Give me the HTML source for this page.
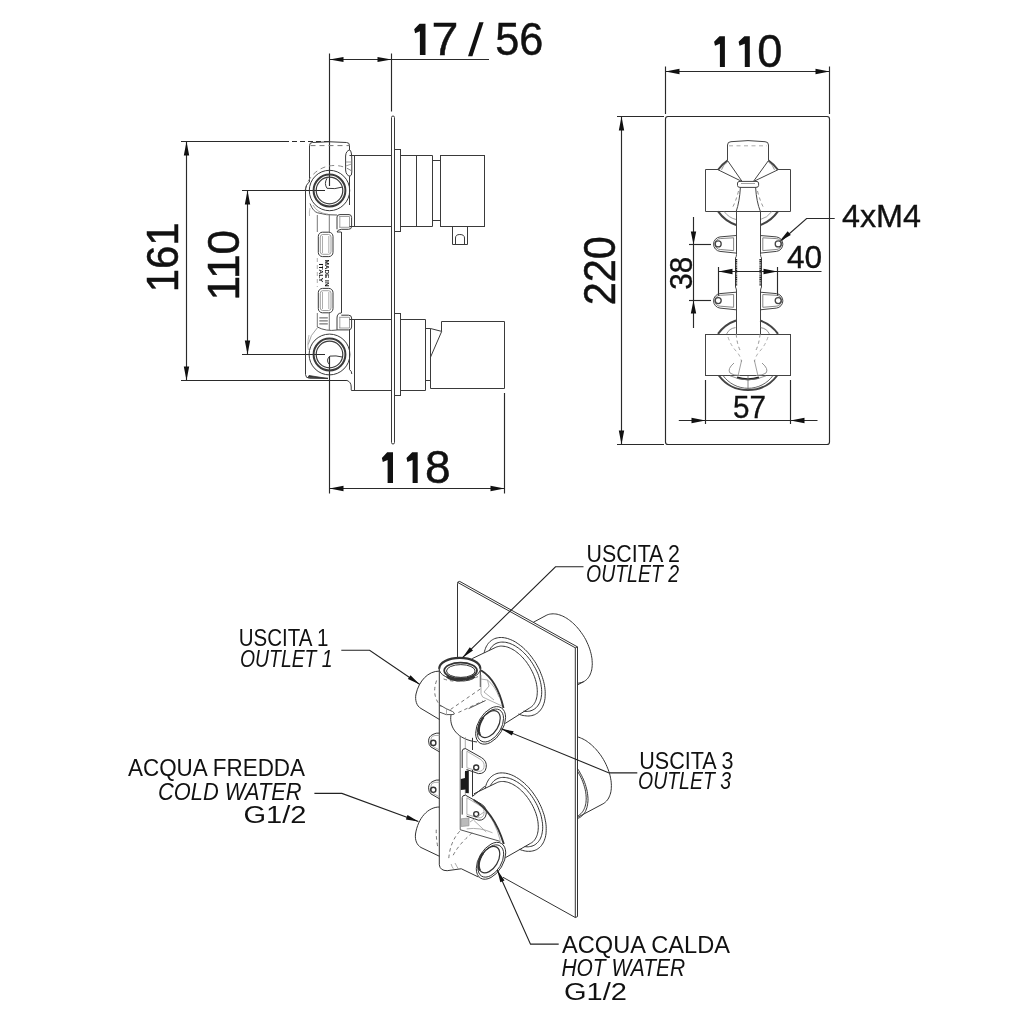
<!DOCTYPE html>
<html><head><meta charset="utf-8">
<style>
html,body{margin:0;padding:0;background:#fff;width:1024px;height:1024px;overflow:hidden}
svg{display:block;will-change:transform}
text{font-family:"Liberation Sans",sans-serif;fill:#111}
</style></head><body>
<svg width="1024" height="1024" viewBox="0 0 1024 1024">
<defs>
<marker id="a" viewBox="0 0 14 6" refX="14" refY="3" markerWidth="14" markerHeight="6" markerUnits="userSpaceOnUse" orient="auto-start-reverse"><path d="M0,0L14,3L0,6z" fill="#111"/></marker>
</defs>
<rect width="1024" height="1024" fill="#fff"/>

<!-- ================= SIDE VIEW ================= -->
<g fill="none" stroke="#2a2a2a" stroke-width="1.15">
  <line x1="329.5" y1="53.5" x2="329.5" y2="186"/>
  <line x1="391.5" y1="53.5" x2="391.5" y2="111.5"/>
  <line x1="329.5" y1="59.5" x2="489" y2="59.5"/>
  <line x1="181" y1="141.5" x2="289" y2="141.5"/>
  <line x1="292" y1="141.5" x2="330" y2="141.5" stroke-dasharray="5,3"/>
  <line x1="181" y1="380.5" x2="346.9" y2="380.5"/>
  <line x1="186.5" y1="141.5" x2="186.5" y2="380.5"/>
  <line x1="242" y1="190.5" x2="325" y2="190.5"/>
  <line x1="242" y1="354.5" x2="325" y2="354.5"/>
  <line x1="247.5" y1="190.5" x2="247.5" y2="354.5"/>
  <line x1="329.5" y1="356" x2="329.5" y2="493.5"/>
  <line x1="504.5" y1="393" x2="504.5" y2="493.5"/>
  <line x1="329.5" y1="488.5" x2="504.5" y2="488.5"/>
</g>
<g fill="#111">
  <path d="M329.5,59.5 l14,-2.6 v5.2z M391.5,59.5 l-14,-2.6 v5.2z"/>
  <path d="M186.5,141.5 l-2.7,14 h5.4z M186.5,380.5 l-2.7,-14 h5.4z"/>
  <path d="M247.5,190.5 l-2.7,14 h5.4z M247.5,354.5 l-2.7,-14 h5.4z"/>
  <path d="M329.5,488.5 l14,-2.7 v5.4z M504.5,488.5 l-14,-2.7 v5.4z"/>
</g>
<g font-size="45" stroke="#111" stroke-width="0.5">
  <text transform="translate(178.4,292.3) rotate(-90)" textLength="70" lengthAdjust="spacingAndGlyphs">161</text>
  <text transform="translate(239.4,300.4) rotate(-90)" textLength="70.5" lengthAdjust="spacingAndGlyphs">110</text>
</g>

<g font-size="45.5" stroke="#111" stroke-width="0.45" fill="#111">
<path d="M419.5,23.7 H425.5 V55.1 H419.9 V31.3 L415.1,33.3 L414.2,29.3 Z" stroke="none"/>
<text x="431.52" y="55.1" textLength="26.92" lengthAdjust="spacingAndGlyphs">7</text>
<path d="M468,56.2 H472.4 L483.6,22.2 H479.2 Z" stroke="none"/>
<text x="495.26" y="54.86" textLength="48.24" lengthAdjust="spacingAndGlyphs">56</text>
<path d="M387.2,452.3 H393 V483.1 H387.6 V459.9 L382.8,461.9 L381.9,457.9 Z" stroke="none"/>
<path d="M412.2,452.3 H417.7 V483.1 H412.6 V459.9 L407.4,461.9 L406.5,457.9 Z" stroke="none"/>
<text x="425" y="482.87" textLength="25.6" lengthAdjust="spacingAndGlyphs">8</text>
<path d="M719.5,36.2 H724.9 V66.9 H719.9 V43.8 L715,45.8 L714.1,41.8 Z" stroke="none"/>
<path d="M744.4,36.2 H749.8 V66.9 H744.8 V43.8 L739.5,45.8 L738.6,41.8 Z" stroke="none"/>
<text x="757.13" y="66.97" textLength="25.13" lengthAdjust="spacingAndGlyphs">0</text>
</g>

<!-- body -->
<g fill="none" stroke="#3a3a3a" stroke-width="1">
  <path d="M309.5,182 V145.5 Q309.5,142.5 312.5,142.5 Q329.5,141 346.5,142.5 Q349.5,142.5 349.5,145.5 V150"/>
  <path d="M310.5,145.6 H349" stroke="#777" stroke-dasharray="5,4"/>
  <path d="M349.8,150 Q346,150.5 345.6,156 V170 Q346,175.5 350,176.2 Q351.8,176 351.8,172 V160 Q351.8,151 349.8,150z"/>
  <path d="M345.8,162 H351.5 M345.8,166 L351.5,164" stroke="#888" stroke-width="0.8"/>
  <path d="M349.5,176.2 V205"/>
  <path d="M305.2,190 A29.7,29.7 0 0 1 353,172" stroke="#888" stroke-dasharray="5,4"/>
  <path d="M309.5,182 Q305.5,184 305.5,192 V374.5 Q305.5,378.2 309.5,378.2 H328"/>
  <path d="M308,377.6 L328,378.6 L309,375.5z" fill="#333" stroke="#333" stroke-width="0.8"/>
  <circle cx="329.5" cy="190.5" r="20.2"/>
  <circle cx="329.5" cy="190.5" r="15.9" stroke-width="2"/>
  <circle cx="329.5" cy="190.5" r="13.3" stroke-width="1.2"/>
  <path d="M327,178.3 Q323.8,183.5 327,188.3 Q335,189.5 342.2,187.1"/>
  <circle cx="329.5" cy="354.5" r="20.4"/>
  <circle cx="329.5" cy="354.5" r="15.9" stroke-width="2"/>
  <circle cx="329.5" cy="354.5" r="13.3" stroke-width="1.2"/>
  <path d="M329.9,356.1 Q336,355.3 342.2,357 M329.9,356.1 Q325.5,360 329.2,364.3"/>
  <!-- junctions -->
  <path d="M310,203.5 Q313,211.5 317.6,212.8 Q326,215.5 337,215" stroke="#555"/>
  <path d="M313,205 Q317,213 328,214.2" stroke="#999" stroke-width="0.8"/>
  <path d="M317.3,215 V232 M317.3,313 V327" stroke="#777"/>
  <path d="M329.3,214 V232 M329.3,313 V330" stroke="#777"/>
  <path d="M317.3,327 Q326,331.6 337,330" stroke="#555"/>
  <path d="M317.6,327.5 Q310,335 308.2,344.5" stroke="#999" stroke-width="0.9"/>
  <path d="M310,208 Q309,212 309.5,216 M309,335 Q307,345 308.5,350" stroke="#aaa" stroke-width="0.8"/>
  <!-- lugs -->
  <path d="M337,229.3 V217 Q337,214.6 340,214.6 H349 Q351.6,214.6 351.6,217.5 V226.5 Q351.6,229.3 348.5,229.3 H341.3 Q337.5,229.8 337,232 H341.3"/>
  <path d="M339.2,216.5 H349.5 M339.2,227.3 H349.5 M339.8,216.5 V227.3 M349.5,216.5 V227.3" stroke="#888" stroke-width="0.8"/>
  <path d="M341.5,232 V313"/>
  <path d="M341.3,313 Q337,313.2 337,318 V329.9 H348.5 Q351.6,329.9 351.6,327 V318 Q351.6,315.2 348.5,315.2 H341.3"/>
  <path d="M339.2,317.3 H349.5 M339.2,328 H349.5 M339.8,317.3 V328 M349.5,317.3 V328" stroke="#888" stroke-width="0.8"/>
  <path d="M349.5,330 V369.6 Q351.8,371 351.8,374" />
  <path d="M346.9,380.4 Q351.2,382 351.2,387 V390.1"/>
  <!-- capsules -->
  <rect x="318.3" y="232.2" width="14.7" height="24.4" rx="4.2"/>
  <rect x="320.3" y="234.5" width="10.7" height="19.8" rx="2.5" stroke="#888" stroke-width="0.8"/>
  <path d="M322.5,236 V253 M328.8,236 V253" stroke="#999" stroke-width="0.8"/>
  <rect x="318.3" y="288.4" width="14.7" height="24.4" rx="4.2"/>
  <rect x="320.3" y="290.7" width="10.7" height="19.8" rx="2.5" stroke="#888" stroke-width="0.8"/>
  <path d="M322.5,292 V309 M328.8,292 V309" stroke="#999" stroke-width="0.8"/>
  <path d="M319.3,317.8 H327.8 M319.3,323.8 H327.8 M319.3,320.8 H327.8" stroke="#777" stroke-width="1.3"/>
  <path d="M317.3,258 V287" stroke="#999" stroke-dasharray="4,3" stroke-width="0.8"/>
</g>
<g font-size="6.2" font-weight="bold" fill="#222">
  <text transform="translate(324.5,259.5) rotate(90)" textLength="27" lengthAdjust="spacingAndGlyphs">MADE IN</text>
  <text transform="translate(318.5,263.5) rotate(90)" textLength="19" lengthAdjust="spacingAndGlyphs">ITALY</text>
</g>
<g fill="none" stroke="#3a3a3a" stroke-width="1">
  <!-- housings -->
  <path d="M349.5,155.5 H391 M354.5,155.5 V226.5 M349.5,226.5 H391"/>
  <path d="M349.5,319.5 H391 M354.5,319.5 V390.5 M351.2,390.5 H391"/>
  <!-- plate -->
  <rect x="391.5" y="116" width="3" height="328" rx="1.5"/>
  <rect x="394.5" y="149.5" width="6" height="82"/>
  <rect x="394.5" y="313.5" width="6" height="82"/>
  <!-- upper right -->
  <path d="M400.5,155.5 H432.5 V226.5 H400.5 M416.5,155.5 V226.5"/>
  <rect x="432.5" y="160.5" width="8" height="60"/>
  <rect x="440.5" y="155.5" width="44" height="71"/>
  <path d="M452.5,226.5 V244.5 H467.5 V226.5 M455.5,244.5 V238 Q455.5,234.5 459.8,234.5 Q464.5,234.5 464.5,238 V244.5"/>
  <!-- lower right -->
  <path d="M400.5,319.5 H425.5 V390.5 H400.5"/>
  <path d="M425.5,328.5 H430.5 V380.5 H425.5"/>
  <path d="M430.5,328.5 L441.7,331.4 L430.5,357.2 V388.5 H504.5 V321.5 H441.5 V331.4"/>
</g>

<!-- ================= FRONT VIEW ================= -->
<g fill="none" stroke="#2a2a2a" stroke-width="1.15">
  <rect x="665.5" y="116.5" width="164" height="328" rx="2.5"/>
  <line x1="665.5" y1="66.5" x2="665.5" y2="114"/>
  <line x1="829.5" y1="66.5" x2="829.5" y2="114"/>
  <line x1="665.5" y1="71.5" x2="829.5" y2="71.5"/>
  <line x1="617" y1="116.5" x2="664" y2="116.5"/>
  <line x1="617" y1="444.5" x2="664" y2="444.5"/>
  <line x1="621.5" y1="116.5" x2="621.5" y2="444.5"/>
  <line x1="693.5" y1="217" x2="693.5" y2="328"/>
  <line x1="689" y1="244.5" x2="711" y2="244.5"/>
  <line x1="689" y1="300.5" x2="711" y2="300.5"/>
  <line x1="718.5" y1="271.5" x2="821.5" y2="271.5"/>
  <line x1="718.5" y1="267" x2="718.5" y2="296"/>
  <line x1="777.5" y1="267" x2="777.5" y2="296"/>
  <line x1="678.8" y1="420.5" x2="817.5" y2="420.5"/>
  <line x1="705.5" y1="380" x2="705.5" y2="424"/>
  <line x1="790.5" y1="380" x2="790.5" y2="424"/>
  <path d="M834.7,218.5 H806.6 L781,241"/>
</g>
<g fill="#111">
  <path d="M665.5,71.5 l14,-2.7 v5.4z M829.5,71.5 l-14,-2.7 v5.4z"/>
  <path d="M621.5,116.5 l-2.7,14 h5.4z M621.5,444.5 l-2.7,-14 h5.4z"/>
  <path d="M693.5,244.5 l-2.7,-13 h5.4z M693.5,300.5 l-2.7,13 h5.4z"/>
  <path d="M718.5,271.5 l14,-2.7 v5.4z M777.5,271.5 l-14,-2.7 v5.4z"/>
  <path d="M705.5,420.5 l-14,-2.7 v5.4z M790.5,420.5 l14,-2.7 v5.4z"/>
  <path d="M779.3,241.5 L787.7,231.3 L790.8,235.0 Z"/>
</g>
<g font-size="45" stroke="#111" stroke-width="0.5">
  <text transform="translate(615.1,305.3) rotate(-90)" textLength="69" lengthAdjust="spacingAndGlyphs">220</text>
</g>
<g font-size="32" stroke="#111" stroke-width="0.35">
  <text transform="translate(691.7,289.7) rotate(-90)" textLength="33" lengthAdjust="spacingAndGlyphs">38</text>
  <text x="787" y="268" textLength="35.2" lengthAdjust="spacingAndGlyphs">40</text>
  <text x="733" y="418.3" textLength="33" lengthAdjust="spacingAndGlyphs">57</text>
  <text x="842" y="227" textLength="79" lengthAdjust="spacingAndGlyphs">4xM4</text>
</g>
<g fill="none" stroke="#444" stroke-width="1">
  <!-- upper part -->
  <path d="M727.5,160.5 V145 Q727.5,141.7 731,141.7 Q748,139.5 765,141.7 Q768.5,141.7 768.5,145 V160.5"/>
  <path d="M729,145.8 H767" stroke="#999" stroke-dasharray="4,3.5" stroke-width="0.8"/>
  <path d="M718.1,169.8 A36.5,36.5 0 0 1 727.5,160.5 M768.5,160.5 A36.5,36.5 0 0 1 777.9,169.8" stroke-width="2"/>
  <path d="M721.5,169.8 Q723.5,164 727.5,162 M768.5,162 Q772.5,164 774.5,169.8" stroke="#777" stroke-width="0.8"/>
  <path d="M727.5,160.5 L742.2,181.6 M768.5,160.5 L753.3,181.6 M718.1,169.8 L742.2,181.6 M777.9,169.8 L753.3,181.6"/>
  <path d="M718.1,169.5 H705.5 V211.5 H790.5 V169.5 H777.9"/>
  <path d="M737.5,183 Q737.5,181.4 740,181.4 H756 Q758.6,181.4 758.6,183 V185.5 Q758.6,187.4 756,187.4 H740 Q737.5,187.4 737.5,185.5z" fill="#fff"/>
  <path d="M741,183.5 H755" stroke="#888" stroke-width="0.8"/>
  <path d="M740.4,187.4 Q739.5,202 736.2,211.4 M755.6,187.4 Q756.5,202 760.4,211.4"/>
  <path d="M738.5,191 Q736,201 732.5,207.5 M757.5,191 Q760,201 763.5,207.5" stroke="#888" stroke-dasharray="3.5,3" stroke-width="0.9"/>
  <path d="M718.1,211.4 A36.5,36.5 0 0 0 736.2,225 M760.4,225 A36.5,36.5 0 0 0 777.9,211.4" stroke-width="2"/>
  <path d="M724,211.4 Q729,218 736.2,219.5 M760.4,219.5 Q767,218 772,211.4" stroke="#888" stroke-width="0.8"/>
  <path d="M736.5,211.4 V254.5 Q736.5,256.5 735.5,258 V287 Q736.5,289 736.5,291 V319 Q736.5,322 736.5,325 V334.5"/>
  <path d="M760.5,211.4 V254.5 Q760.5,256.5 761.5,258 V287 Q760.5,289 760.5,291 V319 Q760.5,322 760.5,325 V334.5"/>
  <path d="M736.2,259 V286 M760.4,259 V286" stroke="#222" stroke-width="2" stroke-dasharray="1.2,0.6"/>
  <!-- lugs -->
  <g>
  <path d="M736.2,235.5 L720,236.9 A7.3,7.3 0 0 0 720,251.4 L736.2,253.1"/>
  <path d="M733.6,237.8 L720.3,238.6 A5.4,5.4 0 0 0 720.3,249.5 L733.6,250.6 Z" stroke="#666" stroke-width="0.8"/>
  <circle cx="718.2" cy="243.9" r="3" stroke-width="1.3"/>
  </g>
  <g transform="translate(1496.4,0) scale(-1,1)">
  <path d="M736.2,235.5 L720,236.9 A7.3,7.3 0 0 0 720,251.4 L736.2,253.1"/>
  <path d="M733.6,237.8 L720.3,238.6 A5.4,5.4 0 0 0 720.3,249.5 L733.6,250.6 Z" stroke="#666" stroke-width="0.8"/>
  <circle cx="718.2" cy="243.9" r="3" stroke-width="1.3"/>
  </g>
  <g transform="translate(0,56.7)">
  <path d="M736.2,235.5 L720,236.9 A7.3,7.3 0 0 0 720,251.4 L736.2,253.1"/>
  <path d="M733.6,237.8 L720.3,238.6 A5.4,5.4 0 0 0 720.3,249.5 L733.6,250.6 Z" stroke="#666" stroke-width="0.8"/>
  <circle cx="718.2" cy="243.9" r="3" stroke-width="1.3"/>
  </g>
  <g transform="translate(1496.4,56.7) scale(-1,1)">
  <path d="M736.2,235.5 L720,236.9 A7.3,7.3 0 0 0 720,251.4 L736.2,253.1"/>
  <path d="M733.6,237.8 L720.3,238.6 A5.4,5.4 0 0 0 720.3,249.5 L733.6,250.6 Z" stroke="#666" stroke-width="0.8"/>
  <circle cx="718.2" cy="243.9" r="3" stroke-width="1.3"/>
  </g>
  <!-- lower -->
  <path d="M718,333.9 A36.5,36.5 0 0 1 736,320.5 M760.1,320.5 A36.5,36.5 0 0 1 778,333.9" stroke-width="2"/>
  <path d="M726.7,333.9 Q729,328.5 735.5,327.6 M760.6,327.6 Q767,328.5 769.3,333.9" stroke="#777" stroke-width="0.8"/>
  <rect x="705.5" y="334.5" width="85" height="41"/>
  <path d="M736.2,333.9 Q737,345 741,352 M760.1,333.9 Q759,345 755,352" stroke="#888" stroke-dasharray="3.5,3" stroke-width="0.9"/>
  <path d="M728,337 Q731,346 737,352 Q741,357 741.5,362 M768,337 Q765,346 759,352 Q755,357 754.5,362" stroke="#999" stroke-dasharray="3.5,3" stroke-width="0.8"/>
  <path d="M741.7,360 L738.1,375.5 M754.3,360 L757.9,375.5" stroke="#888" stroke-width="0.8"/>
  <path d="M734,363 Q727,369 730,373 Q733,375.5 740,375.5 M762,363 Q769,369 766,373 Q763,375.5 756,375.5" stroke="#888" stroke-width="0.9"/>
  <path d="M718.8,375.5 A36.5,36.5 0 0 0 777.2,375.5" stroke-width="2"/>
  <path d="M723,375.5 A30.8,30.8 0 0 0 773,375.5" stroke="#555" stroke-width="0.9"/>
  <path d="M737,377.5 Q748,381 759,377.5" stroke="#222" stroke-width="2.2"/>
  <path d="M730,375.8 Q748,384 766,375.8" stroke="#777" stroke-width="0.8"/>
  <path d="M748,376 V390" stroke="#666" stroke-width="0.8"/>
</g>

<!-- ================= ISOMETRIC ================= -->
<g fill="none" stroke="#333" stroke-width="1">
<path d="M457.5,657.5 V583.8 Q457.5,581.3 459.7,581.4 L577.5,646.9 V916.6 L575.3,917.5"/>
<path d="M457.5,582.3 L575.3,647.8 V917.5"/>
<path d="M575.3,647.8 L577.5,646.9"/>
<path d="M575.3,917.5 L503,877.3"/>
<path d="M533.3,622.3 L546.2,615.4 L546.2,615.4 L547.2,614.9 L548.3,614.5 L549.5,614.2 L550.7,614 L551.9,613.9 L553.2,613.8 L554.4,613.9 L555.8,614 L557.1,614.2 L558.5,614.6 L559.9,615 L561.2,615.5 L562.7,616.1 L564.1,616.8 L565.5,617.6 L566.9,618.4 L568.3,619.4 L569.7,620.4 L571.1,621.5 L572.5,622.6 L573.8,623.9 L575.1,625.2 L576.4,626.5 L577.7,628 L578.9,629.4 L580.1,631 L581.3,632.6 L582.4,634.2 L583.5,635.8 L584.5,637.5 L585.5,639.2 L586.4,641 L587.2,642.8 L588,644.5 L588.7,646.3 L589.4,648.1 L590,649.9 L590.5,651.7 L591,653.5 L591.4,655.3 L591.7,657.1 L592,658.8 L592.1,660.5 L592.2,662.2 L592.3,663.8 L592.2,665.4 L592.1,666.9 L591.9,668.4 L591.7,669.9 L591.3,671.3 L590.9,672.6 L590.4,673.9 L589.9,675.1 L589.3,676.2 L588.6,677.2 L587.9,678.2 L587.1,679.1 L586.2,679.9 L585.3,680.6 L584.3,681.3 L583.3,681.8 L582.2,682.3 L581.1,682.6 L579.9,682.9 L578.7,683.1 L577.5,683.2"/>
<path d="M583.8,681.6 L577.5,684.9"/>
<path d="M577.5,736.9 L578.9,737.3 L580.3,737.8 L581.6,738.4 L583,739 L584.5,739.8 L585.9,740.6 L587.3,741.6 L588.6,742.6 L590,743.6 L591.4,744.8 L592.7,746 L594,747.3 L595.3,748.6 L596.6,750 L597.8,751.5 L599,753 L600.2,754.5 L601.3,756.1 L602.4,757.8 L603.4,759.4 L604.3,761.1 L605.3,762.9 L606.1,764.6 L606.9,766.4 L607.6,768.2 L608.3,769.9 L608.9,771.7 L609.5,773.5 L610,775.3 L610.4,777.1 L610.7,778.8 L611,780.5 L611.2,782.2 L611.3,783.9 L611.4,785.5 L611.3,787.1 L611.3,788.7 L611.1,790.2 L610.9,791.6 L610.6,793 L610.2,794.4 L609.7,795.7 L609.2,796.9 L608.7,798 L608,799.1 L607.3,800.1 L606.5,801 L605.7,801.8 L604.8,802.6 L603.9,803.3 L602.9,803.9 L577.5,817.4"/>
<path d="M577.5,768.7 L578.6,770.3 L579.6,772 L580.6,773.8 L581.6,775.5 L582.4,777.3 L583.3,779.1 L584,780.9 L584.7,782.7 L585.4,784.5 L585.9,786.4 L586.4,788.2 L586.9,790 L587.2,791.7 L587.5,793.5 L587.7,795.2 L587.9,797 L588,798.6 L588,800.3 L587.9,801.9 L587.7,803.4 L587.5,804.9 L587.2,806.3 L586.9,807.7 L586.4,809 L585.9,810.3 L585.4,811.5 L584.7,812.6 L584,813.6 L583.3,814.6 L582.4,815.5 L581.6,816.3 L580.6,817 L579.6,817.6 L578.6,818.1 L577.5,818.6"/>
<path d="M577.5,771.3 L578.5,772.9 L579.4,774.5 L580.3,776.1 L581.1,777.8 L581.9,779.5 L582.6,781.2 L583.2,782.9 L583.8,784.6 L584.3,786.3 L584.8,787.9 L585.2,789.6 L585.5,791.3 L585.8,792.9 L586,794.6 L586.1,796.1 L586.2,797.7 L586.2,799.2 L586.1,800.7 L586,802.2 L585.8,803.6 L585.5,804.9 L585.2,806.2 L584.8,807.4 L584.3,808.6 L583.8,809.7 L583.2,810.8 L582.6,811.7 L581.9,812.6 L581.1,813.5 L580.3,814.2 L579.4,814.9 L578.5,815.5 L577.5,816"/>
<path d="M484.2,652.9 L484.5,651.3 L485,649.8 L485.5,648.3 L486.1,646.9 L486.8,645.7 L487.5,644.5 L488.4,643.3 L489.3,642.3 L490.2,641.4 L491.3,640.5 L492.4,639.8 L493.5,639.2 L494.7,638.6 L496,638.2 L497.3,637.9 L498.7,637.6 L500.1,637.5 L501.5,637.5 L503,637.6 L504.5,637.8 L506,638.1 L507.6,638.5 L509.2,639.1 L510.8,639.7 L512.4,640.4 L514,641.2 L515.6,642.1 L517.2,643.2 L518.8,644.3 L520.4,645.5 L522,646.7 L523.5,648.1 L525,649.5 L526.5,651 L528,652.6 L529.4,654.3 L530.8,656 L532.1,657.7 L533.4,659.6 L534.7,661.4 L535.9,663.3 L537,665.3 L538,667.2 L539.1,669.2 L540,671.2 L540.8,673.3 L541.6,675.3 L542.4,677.4 L543,679.4 L543.6,681.5 L544.1,683.5 L544.5,685.5 L544.8,687.5 L545,689.4 L545.2,691.3 L545.2,693.2 L545.2,695.1 L545.1,696.8 L545,698.6 L544.7,700.2 L544.4,701.9 L543.9,703.4 L543.4,704.9 L542.8,706.2 L542.2,707.6 L541.4,708.8 L540.6,709.9 L539.7,711 L538.8,711.9 L537.8,712.8 L536.7,713.5 L535.6,714.2 L534.4,714.8 L533.1,715.2 L531.8,715.6 L530.4,715.8 L529,716 L527.6,716 L526.1,715.9 L524.6,715.7 L523.1,715.5 L521.5,715.1 L520,714.6 L518.4,714"/>
<path d="M489.4,650.4 L490,649.3 L490.7,648.2 L491.4,647.2 L492.2,646.3 L493,645.5 L494,644.7 L494.9,644.1 L496,643.5 L497,643 L498.1,642.7 L499.3,642.4 L500.5,642.2 L501.7,642.1 L503,642.1 L504.3,642.2 L505.7,642.3 L507,642.6 L508.4,643 L509.8,643.4 L511.2,644 L512.6,644.6 L514,645.3 L515.5,646.2 L516.9,647.1 L518.3,648 L519.7,649.1 L521.1,650.2 L522.4,651.4 L523.8,652.7 L525.1,654 L526.4,655.4 L527.7,656.9 L528.9,658.4 L530.1,659.9 L531.2,661.5 L532.3,663.2 L533.3,664.8 L534.3,666.6 L535.3,668.3 L536.2,670.1 L537,671.8 L537.8,673.6 L538.5,675.4 L539.1,677.3 L539.7,679.1 L540.2,680.9 L540.6,682.6 L541,684.4 L541.2,686.2 L541.5,687.9 L541.6,689.6 L541.7,691.3 L541.7,692.9 L541.6,694.5 L541.4,696 L541.2,697.5 L540.9,698.9 L540.5,700.2 L540.1,701.5 L539.6,702.8 L539,703.9 L538.3,705 L537.6,706 L536.8,707 L536,707.8 L535.1,708.6 L534.2,709.2 L533.1,709.8 L532.1,710.3 L531,710.7 L529.8,711.1 L528.6,711.3 L527.4,711.4 L526.1,711.4 L524.8,711.4 L523.5,711.2"/>
<path d="M495.2,647.6 L496.2,647.1 L497.2,646.8 L498.3,646.5 L499.3,646.3 L500.5,646.1 L501.6,646.1 L502.8,646.2 L504,646.3 L505.3,646.5 L506.5,646.8 L507.8,647.2 L509.1,647.7 L510.4,648.3 L511.7,648.9 L513,649.6 L514.3,650.4 L515.6,651.3 L516.9,652.3 L518.2,653.3 L519.4,654.4 L520.7,655.5 L521.9,656.7 L523.1,658 L524.2,659.3 L525.4,660.7 L526.5,662.1 L527.5,663.6 L528.5,665.1 L529.5,666.6 L530.4,668.2 L531.3,669.8 L532.1,671.4 L532.9,673 L533.6,674.7 L534.3,676.3 L534.9,678 L535.4,679.6 L535.9,681.3 L536.3,682.9 L536.6,684.6 L536.9,686.2 L537.1,687.8 L537.2,689.3 L537.3,690.8 L537.3,692.3 L537.2,693.8 L537.1,695.2 L536.9,696.6 L536.6,697.9 L536.3,699.1 L535.9,700.3 L535.4,701.5 L534.9,702.5 L534.3,703.5 L533.7,704.5 L533,705.3 L532.2,706.1 L531.4,706.8 L530.5,707.4 L529.6,708"/>
<path d="M495.2,647.6 L472.2,658.6"/>
<path d="M529.6,708 L505.2,723.4"/>
<path d="M485.2,788.3 L485.5,786.7 L486,785.2 L486.5,783.7 L487.1,782.4 L487.8,781.1 L488.5,779.8 L489.3,778.7 L490.2,777.7 L491.2,776.8 L492.2,775.9 L493.3,775.2 L494.5,774.5 L495.7,774 L496.9,773.5 L498.3,773.2 L499.6,773 L501,772.9 L502.5,772.9 L503.9,773 L505.5,773.2 L507,773.5 L508.6,773.9 L510.1,774.4 L511.7,775 L513.3,775.7 L514.9,776.5 L516.5,777.5 L518.2,778.5 L519.8,779.6 L521.3,780.8 L522.9,782 L524.5,783.4 L526,784.8 L527.5,786.3 L529,787.9 L530.4,789.6 L531.8,791.3 L533.1,793 L534.4,794.9 L535.6,796.7 L536.8,798.6 L538,800.6 L539,802.5 L540,804.5 L541,806.6 L541.8,808.6 L542.6,810.6 L543.3,812.7 L544,814.7 L544.6,816.8 L545,818.8 L545.4,820.8 L545.8,822.8 L546,824.7 L546.2,826.7 L546.2,828.5 L546.2,830.4 L546.1,832.2 L546,833.9 L545.7,835.6 L545.4,837.2 L544.9,838.7 L544.4,840.2 L543.8,841.6 L543.2,842.9 L542.4,844.1 L541.6,845.3 L540.8,846.3 L539.8,847.3 L538.8,848.1 L537.7,848.9 L536.6,849.6 L535.4,850.1 L534.1,850.6 L532.8,850.9 L531.4,851.2 L530,851.3 L528.6,851.3 L527.1,851.3 L525.6,851.1 L524.1,850.8 L522.5,850.4 L521,849.9 L519.4,849.3"/>
<path d="M490.4,785.8 L491,784.6 L491.6,783.6 L492.4,782.6 L493.2,781.7 L494,780.8 L494.9,780.1 L495.9,779.5 L496.9,778.9 L498,778.4 L499.1,778 L500.3,777.7 L501.5,777.5 L502.7,777.4 L504,777.4 L505.3,777.5 L506.6,777.7 L508,778 L509.4,778.3 L510.7,778.8 L512.2,779.3 L513.6,780 L515,780.7 L516.4,781.5 L517.8,782.4 L519.2,783.3 L520.6,784.4 L522,785.5 L523.4,786.7 L524.8,788 L526.1,789.3 L527.4,790.7 L528.6,792.2 L529.9,793.7 L531,795.2 L532.2,796.8 L533.3,798.5 L534.3,800.2 L535.3,801.9 L536.3,803.6 L537.2,805.4 L538,807.2 L538.7,809 L539.4,810.8 L540.1,812.6 L540.7,814.4 L541.2,816.2 L541.6,818 L541.9,819.7 L542.2,821.5 L542.5,823.2 L542.6,824.9 L542.7,826.6 L542.7,828.2 L542.6,829.8 L542.4,831.3 L542.2,832.8 L541.9,834.2 L541.5,835.6 L541.1,836.9 L540.6,838.1 L540,839.3 L539.3,840.4 L538.6,841.4 L537.8,842.3 L537,843.1 L536.1,843.9 L535.2,844.6 L534.2,845.2 L533.1,845.7 L532,846.1 L530.8,846.4 L529.6,846.6 L528.4,846.8 L527.1,846.8 L525.8,846.7 L524.5,846.6"/>
<path d="M496.2,783 L497.2,782.5 L498.2,782.1 L499.3,781.8 L500.3,781.6 L501.5,781.5 L502.6,781.5 L503.8,781.5 L505,781.7 L506.3,781.9 L507.5,782.2 L508.8,782.6 L510.1,783.1 L511.4,783.6 L512.7,784.3 L514,785 L515.3,785.8 L516.6,786.7 L517.9,787.6 L519.2,788.6 L520.4,789.7 L521.7,790.9 L522.9,792.1 L524.1,793.3 L525.2,794.7 L526.4,796 L527.5,797.5 L528.5,798.9 L529.5,800.4 L530.5,802 L531.4,803.5 L532.3,805.1 L533.1,806.7 L533.9,808.4 L534.6,810 L535.3,811.7 L535.9,813.3 L536.4,815 L536.9,816.6 L537.3,818.3 L537.6,819.9 L537.9,821.5 L538.1,823.1 L538.2,824.7 L538.3,826.2 L538.3,827.7 L538.2,829.1 L538.1,830.6 L537.9,831.9 L537.6,833.2 L537.3,834.5 L536.9,835.7 L536.4,836.8 L535.9,837.9 L535.3,838.9 L534.7,839.8 L534,840.7 L533.2,841.5 L532.4,842.2 L531.5,842.8 L530.6,843.3"/>
<path d="M496.2,783 L473.9,793.8"/>
<path d="M530.6,843.3 L505.2,857.8"/>
<path d="M439.5,671.1 C428,671 419,681 416,694 C414.8,700 416.5,706 421,708.5 L439.5,719.5"/>
<path d="M436.6,680.5 Q431,696 441.5,707" stroke="#666" stroke-width="0.9" stroke-dasharray="3.5,3"/>
<path d="M439.3,668.7 V864.8 Q440,870.7 447.2,870.7 L461.25,868.75 L478.4,877"/>
<path d="M480.3,668.7 V687"/>
<ellipse cx="459.8" cy="668.7" rx="20.6" ry="10.9" fill="#fff"/>
<path d="M439.2,668.7 A20.6,10.9 0 0 1 480.4,668.7" stroke-width="2.2"/>
<ellipse cx="460.6" cy="670.6" rx="16.4" ry="7.9" stroke-width="1.8"/>
<ellipse cx="460.8" cy="671" rx="14.3" ry="6.4"/>
<path d="M447,676.5 A15,6 0 0 0 474.5,676.5" stroke-width="2.6"/>
<path d="M443.6,679 Q460,684.5 478,676.6" stroke="#666" stroke-width="0.9" stroke-dasharray="3.5,3"/>
<path d="M480.9,670.3 Q497,680 503.5,708" stroke-width="1.9"/>
<path d="M481,675 V693.7 Q482,698 485.6,698.4 L502,706" stroke="#999" stroke-width="0.8"/>
<path d="M481,679 L487.5,680 L489,686 L484,692 M487.5,680 Q495,686 499,697 M484,692 L494,700" stroke="#999" stroke-width="0.8"/>
<path d="M450.6,709.4 L480.3,689" stroke="#666" stroke-width="0.9" stroke-dasharray="3.5,3"/>
<path d="M458.4,712.5 L483,701" stroke="#666" stroke-width="0.9" stroke-dasharray="3.5,3"/>
<path d="M468.6,708.6 L485.6,700.5" stroke="#555"/>
<path d="M439.3,704.7 Q446,709 452.5,711.5 Q455.5,713 453.8,714.5 Q446,716 439.3,712" stroke="#555"/>
<path d="M446.5,708 V715" stroke="#999" stroke-width="0.8"/>
<path d="M451,715 C449,727 457,739.5 477,742"/>
<circle r="17" transform="matrix(0.882,-0.471,0,1,490.6,725.4)" vector-effect="non-scaling-stroke" fill="#fff"/>
<circle r="14.9" transform="matrix(0.882,-0.471,0,1,490.4,725.5)" vector-effect="non-scaling-stroke"/>
<circle r="12.2" transform="matrix(0.882,-0.471,0,1,489.5,724.1)" vector-effect="non-scaling-stroke" stroke-width="1.2"/>
<path d="M480.2,735.2 L479.8,734.6 L479.5,734 L479.3,733.4 L479.1,732.7 L478.9,732 L478.8,731.3 L478.8,730.5 L478.7,729.7 L478.8,728.8 L478.9,727.9 L479,727.1 L479.2,726.2 L479.4,725.3 L479.7,724.4 L480,723.5 L480.4,722.6 L480.8,721.7 L481.2,720.8 L481.7,719.9 L482.2,719 L482.7,718.2 L483.3,717.4" stroke-width="2.4"/>
<path d="M460.2,736 V829.7" stroke="#666"/>
<path d="M472.5,737.8 V750 M472.5,770 V796.4" stroke="#333"/>
<path d="M465.3,737 V749 M465.3,772 V795" stroke="#999" stroke-width="0.8"/>
<path d="M439.5,733.1 Q436,732.7 433,734.4 Q428.6,736.4 428.6,740.9 Q428.6,744.9 430.8,746.9 L439.5,751.9"/>
<path d="M439.5,735.4 Q434,735.1 432,736.4 Q430.5,738.9 431,741.9 Q431.5,744.9 433.5,746.9 L439.5,749.9" stroke="#999" stroke-width="0.8"/>
<circle cx="433.3" cy="742.9" r="2.6" stroke-width="1.4"/>
<path d="M439.5,780 Q436,779.6 433,781.3 Q428.6,783.3 428.6,787.8 Q428.6,791.8 430.8,793.8 L439.5,798.8"/>
<path d="M439.5,782.3 Q434,782 432,783.3 Q430.5,785.8 431,788.8 Q431.5,791.8 433.5,793.8 L439.5,796.8" stroke="#999" stroke-width="0.8"/>
<circle cx="433.3" cy="789.8" r="2.6" stroke-width="1.4"/>
<path d="M462.2,768 V751 Q462.2,748.6 465.5,748.6 L481.5,757.6 Q487.2,761 486.2,767.5 Q485,774 478.5,773.6 L466.5,769.5"/>
<path d="M466.9,751.2 L480.8,759.6 Q484.8,762.2 484,767.3 Q483,771.5 478.8,771.3 L466.9,767.8" stroke="#999" stroke-width="0.8"/>
<path d="M466.9,751.2 V767.8" stroke="#999" stroke-width="0.8"/>
<circle cx="476.2" cy="767.5" r="2.5" stroke-width="1.4"/>
<path d="M462.2,814.6 V797.6 Q462.2,795.2 465.5,795.2 L481.5,804.2 Q487.2,807.6 486.2,814.1 Q485,820.6 478.5,820.2 L466.5,816.1"/>
<path d="M466.9,797.8 L480.8,806.2 Q484.8,808.8 484,813.9 Q483,818.1 478.8,817.9 L466.9,814.4" stroke="#999" stroke-width="0.8"/>
<path d="M466.9,797.8 V814.4" stroke="#999" stroke-width="0.8"/>
<circle cx="476.2" cy="814.1" r="2.5" stroke-width="1.4"/>
<path d="M465,771 L468.8,770.5 V793.3 L465.5,793 V789.5 L460.8,790 V779 L465,778z" fill="#1a1a1a" stroke="none"/>
<path d="M472.5,796.4 L484.8,786.25" stroke="#333"/>
<path d="M461.25,818.75 L469,818 V825.8 L461.25,826.5z" fill="#bbb" stroke="#888" stroke-width="0.6"/>
<path d="M460.1,829.7 L500.3,841.4" stroke="#555"/>
<path d="M466.7,828.9 Q480,827 492.5,832.8" stroke="#999" stroke-width="0.8"/>
<path d="M473.75,820.3 L486.25,832 M483.9,808.6 Q495,820 500.3,840.6 M470,822 L484,812" stroke="#999" stroke-width="0.8"/>
<path d="M473.75,800 Q494,812 503.8,844" stroke-width="1.9"/>
<path d="M439.4,807 C428,807 418,818 415.5,834 C414.8,840 416.8,845 421,847.5 L439.4,856.25"/>
<path d="M436.25,829.7 Q436,838 437.8,846.9" stroke="#666" stroke-width="0.9" stroke-dasharray="3.5,3"/>
<path d="M459.7,831.25 Q450,842 448.75,858.6" stroke="#666" stroke-width="0.9" stroke-dasharray="3.5,3"/>
<path d="M472.2,832.8 Q458,845 452.7,856.25" stroke="#666" stroke-width="0.9" stroke-dasharray="3.5,3"/>
<path d="M451.1,864 Q452,867 453.4,868.75 M455,863 Q457,867 458.5,869" stroke="#999" stroke-width="0.8"/>
<circle r="16.7" transform="matrix(0.882,-0.471,0,1,491,860.8)" vector-effect="non-scaling-stroke" fill="#fff"/>
<circle r="14.6" transform="matrix(0.882,-0.471,0,1,490.8,861)" vector-effect="non-scaling-stroke"/>
<circle r="12" transform="matrix(0.882,-0.471,0,1,489.2,859.6)" vector-effect="non-scaling-stroke" stroke-width="1.2"/>
<path d="M480,870.5 L479.7,870 L479.4,869.4 L479.2,868.8 L479,868.1 L478.8,867.4 L478.7,866.6 L478.6,865.9 L478.6,865.1 L478.7,864.2 L478.7,863.4 L478.9,862.5 L479,861.6 L479.3,860.8 L479.5,859.9 L479.9,859 L480.2,858.1 L480.6,857.2 L481,856.3 L481.5,855.5 L482,854.6 L482.6,853.8 L483.1,853" stroke-width="2.4"/>
</g>

<g fill="none" stroke="#222" stroke-width="1.1">
  <path d="M583.5,566.8 H555.5 L462.5,657.7"/>
  <path d="M341.3,650.2 H369.6 L419.5,684.3"/>
  <path d="M637.3,772.9 H609.1 L501.2,728.7"/>
  <path d="M314.4,793.4 H341.9 L418.4,821.6"/>
  <path d="M558.7,944.1 H530.5 L497.3,870"/>
</g>
<g fill="#111">
  <path d="M462.5,657.7 L469.8,647.3 L473.0,650.6 Z"/>
  <path d="M419.5,684.3 L407.9,679.1 L410.5,675.3 Z"/>
  <path d="M501.2,728.7 L513.6,731.3 L511.9,735.6 Z"/>
  <path d="M418.4,821.6 L405.9,819.4 L407.5,815.1 Z"/>
  <path d="M497.3,870.0 L504.5,880.5 L500.3,882.3 Z"/>
</g>
<g font-size="23">
  <text x="586.6" y="561.5" textLength="93.4" lengthAdjust="spacingAndGlyphs">USCITA 2</text>
  <text x="586" y="582" font-style="italic" textLength="93" lengthAdjust="spacingAndGlyphs">OUTLET 2</text>
  <text x="238.7" y="646" textLength="89.6" lengthAdjust="spacingAndGlyphs">USCITA 1</text>
  <text x="240" y="666.7" font-style="italic" textLength="92.6" lengthAdjust="spacingAndGlyphs">OUTLET 1</text>
  <text x="128" y="776.2" textLength="177" lengthAdjust="spacingAndGlyphs">ACQUA FREDDA</text>
  <text x="158" y="799.5" font-style="italic" textLength="143.6" lengthAdjust="spacingAndGlyphs">COLD WATER</text>
  <text x="243.5" y="822.5" textLength="63" lengthAdjust="spacingAndGlyphs">G1/2</text>
  <text x="639.2" y="768.7" textLength="94.3" lengthAdjust="spacingAndGlyphs">USCITA 3</text>
  <text x="638" y="788.6" font-style="italic" textLength="93" lengthAdjust="spacingAndGlyphs">OUTLET 3</text>
  <text x="562" y="953.3" textLength="168" lengthAdjust="spacingAndGlyphs">ACQUA CALDA</text>
  <text x="561.4" y="975.8" font-style="italic" textLength="123.8" lengthAdjust="spacingAndGlyphs">HOT WATER</text>
  <text x="564" y="999.5" textLength="63" lengthAdjust="spacingAndGlyphs">G1/2</text>
</g>

</svg>
</body></html>
